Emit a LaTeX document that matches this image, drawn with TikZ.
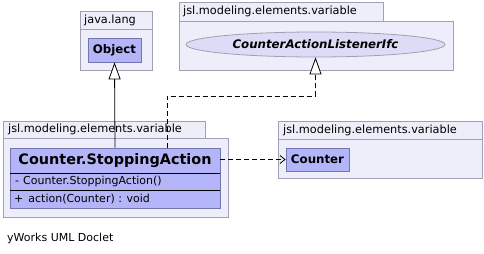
\documentclass[tikz,border=0pt]{standalone}
\usepackage{fontspec}
\setmainfont{DejaVu Sans}
\usetikzlibrary{arrows.meta,shapes.geometric}
\definecolor{pkgfill}{HTML}{EEEEFA}
\definecolor{pkgline}{HTML}{A0A0B4}
\definecolor{clsfill}{HTML}{B4B4F8}
\definecolor{clsline}{HTML}{7474B0}
\definecolor{ifcfill}{HTML}{DCDCF6}
\begin{document}
\begin{tikzpicture}[x=1pt,y=-1pt,
  pkg/.style={draw=pkgline,fill=pkgfill,line width=0.8pt},
  pkglabel/.style={anchor=west,inner sep=0pt,font=\fontsize{11.3}{13}\selectfont},
  cls/.style={draw=clsline,fill=clsfill,line width=0.8pt,inner sep=0pt},
  clsname/.style={font=\fontsize{11.8}{14}\selectfont\bfseries},
  member/.style={anchor=west,inner sep=0pt,font=\fontsize{11}{13}\selectfont},
  gen/.style={line width=0.8pt,-{Triangle[open,length=17pt,width=12pt,fill=white]}},
  real/.style={gen,dash pattern=on 5pt off 3pt},
  dep/.style={line width=0.8pt,dash pattern=on 5pt off 3pt,-{Straight Barb[length=5pt,width=8pt]}}]
\useasboundingbox[fill=white] (0,0) rectangle (484,254);

% package java.lang
\draw[pkg] (80,11) rectangle (152,29);
\draw[pkg] (80,29) rectangle (152,70);
\node[pkglabel] (pjl) at (84,20) {java.lang};
\node[cls,clsname,minimum width=53pt,minimum height=24pt] (obj) at (114.5,50) {Object};

% package holding the listener interface
\draw[pkg] (179,2) rectangle (383,21);
\draw[pkg] (179,21) rectangle (453,70);
\node[pkglabel] (pifc) at (183,11.5) {jsl.modeling.elements.variable};
\node[ellipse,draw=pkgline,fill=ifcfill,line width=0.8pt,inner sep=0pt,
      minimum width=259pt,minimum height=25pt,
      font=\fontsize{11.8}{14}\selectfont\bfseries\itshape] (ifc) at (315.5,44.5) {CounterActionListenerIfc};

% package holding the inner class
\draw[pkg] (3,121) rectangle (205,138);
\draw[pkg] (3,138) rectangle (228,217);
\node[pkglabel] (pstop) at (8,129.5) {jsl.modeling.elements.variable};
\node[cls,minimum width=210pt,minimum height=60pt] (stop) at (115,178) {};
\draw[line width=0.8pt] (stop.west |- 0,173) -- (stop.east |- 0,173);
\draw[line width=0.8pt] (stop.west |- 0,190) -- (stop.east |- 0,190);
\node[clsname,font=\fontsize{14.4}{17}\selectfont\bfseries] (stopname) at (115,160.5) {Counter.StoppingAction};
\node[member] (ctor) at (15,181.5) {-\hspace{4pt}Counter.StoppingAction()};
\node[member] (act) at (14,199) {+\hspace{5pt}action(Counter) : void};

% package holding Counter
\draw[pkg] (278,121) rectangle (482,139);
\draw[pkg] (278,139) rectangle (482,178);
\node[pkglabel] (pcnt) at (283,130) {jsl.modeling.elements.variable};
\node[cls,clsname,minimum width=63pt,minimum height=23pt] (cnt) at (317.5,159.5) {Counter};

% relations
\draw[gen] (stop.north) -- (obj.south);
\coordinate (bend) at (167,96);
\draw[real] (stop.north -| bend) -- (bend) -| (ifc.south);
\draw[dep] (stop.east |- cnt.west) -- (cnt.west);

\node[member,font=\fontsize{11}{13}\selectfont] (credit) at (7,238) {yWorks UML Doclet};
\end{tikzpicture}
\end{document}
